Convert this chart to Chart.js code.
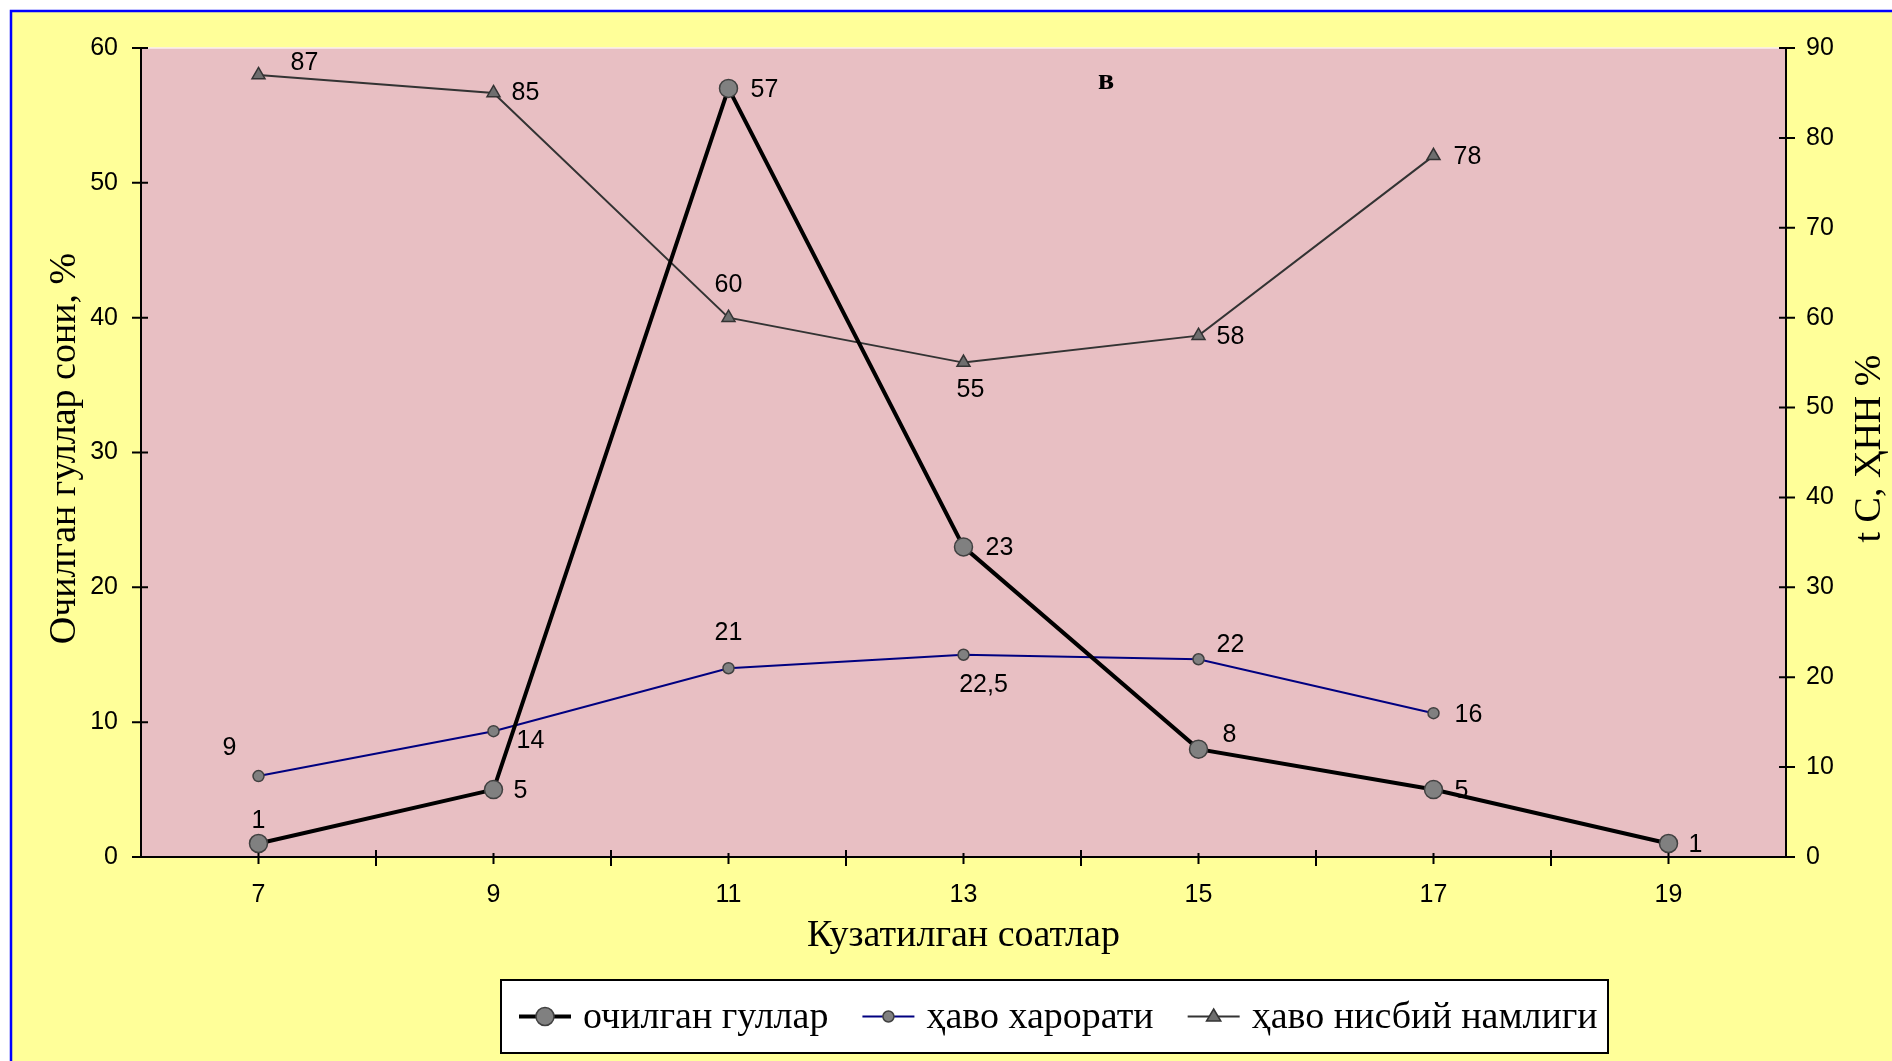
<!DOCTYPE html>
<html lang="uz">
<head>
<meta charset="UTF-8">
<title>Очилган гуллар</title>
<script src="https://cdn.jsdelivr.net/npm/chart.js@4.4.1/dist/chart.umd.min.js"></script>
<style>
  html, body { margin: 0; padding: 0; background: #fff; }
  #wrap { width: 1892px; height: 1061px; }
</style>
</head>
<body>
<div id="wrap"><canvas id="chart" width="1892" height="1061"></canvas></div>
<script>
// observed hours and series
const hours = [7, 9, 11, 13, 15, 17, 19];
const openedFlowers = [1, 5, 57, 23, 8, 5, 1];       // %, left axis
const airTemp = [9, 14, 21, 22.5, 22, 16];           // t C, right axis
const airHumidity = [87, 85, 60, 55, 58, 78];        // %, right axis
const xTickLabels = [7, 9, 11, 13, 15, 17, 19];
const leftTicks = [0, 10, 20, 30, 40, 50, 60];
const rightTicks = [0, 10, 20, 30, 40, 50, 60, 70, 80, 90];

const serif = '"Liberation Serif", "Times New Roman", "DejaVu Serif", serif';
const sans = '"Liberation Sans", Arial, sans-serif';

function pts(values) {
  return values.map((v, i) => ({ x: hours[i], y: v }));
}

function fmt(v) {
  return String(v).replace('.', ',');
}

// label placement next to each point (px), like the hand-moved excel labels
const flowerShift = [[0, -22], [27, 2], [36, 2], [36, 1], [31, -14], [28, 2], [27, 2]];
const tempShift = [[-29, -28], [37, 10], [0, -35], [20, 30], [32, -14], [35, 2]];
const humidShift = [[46, -12], [32, 0], [0, -33], [7, 27], [32, 1], [34, 1]];

const framePlugin = {
  id: 'frame',
  beforeDraw(chart) {
    const { ctx, chartArea: a } = chart;
    ctx.save();
    ctx.fillStyle = '#ffffff';
    ctx.fillRect(0, 0, chart.width, chart.height);
    ctx.fillStyle = '#ffff99';
    ctx.fillRect(11, 11, chart.width - 11, chart.height - 11);
    ctx.strokeStyle = '#0000ff';
    ctx.lineWidth = 2.5;
    ctx.beginPath();
    ctx.moveTo(11, chart.height);
    ctx.lineTo(11, 11);
    ctx.lineTo(chart.width, 11);
    ctx.stroke();
    ctx.fillStyle = '#e8bfc3';
    ctx.fillRect(a.left, a.top, a.right - a.left, a.bottom - a.top);
    ctx.strokeStyle = '#fbeef0';
    ctx.lineWidth = 1.5;
    ctx.beginPath();
    ctx.moveTo(a.left, a.top);
    ctx.lineTo(a.right, a.top);
    ctx.stroke();
    ctx.restore();
  }
};

// tick marks crossing the axis lines
const tickPlugin = {
  id: 'crossTicks',
  afterDatasetsDraw(chart) {
    const { ctx, chartArea: a, scales } = chart;
    ctx.save();
    ctx.strokeStyle = '#000';
    ctx.lineWidth = 2;
    ctx.beginPath();
    leftTicks.forEach(v => {
      const y = scales.y.getPixelForValue(v);
      ctx.moveTo(a.left - 9, y);
      ctx.lineTo(a.left + 7, y);
    });
    rightTicks.forEach(v => {
      const y = scales.y1.getPixelForValue(v);
      ctx.moveTo(a.right - 7, y);
      ctx.lineTo(a.right + 9, y);
    });
    for (let h = 7; h <= 19; h++) {
      const x = scales.x.getPixelForValue(h);
      const big = h % 2 === 0;
      ctx.moveTo(x, a.bottom - (big ? 7 : 4));
      ctx.lineTo(x, a.bottom + (big ? 9 : 7));
    }
    ctx.stroke();
    ctx.restore();
  }
};

const labelPlugin = {
  id: 'pointLabels',
  afterDatasetsDraw(chart) {
    const { ctx } = chart;
    ctx.save();
    ctx.font = '25px ' + sans;
    ctx.fillStyle = '#000';
    ctx.textAlign = 'center';
    ctx.textBaseline = 'middle';
    chart.data.datasets.forEach((ds, i) => {
      const meta = chart.getDatasetMeta(i);
      meta.data.forEach((el, j) => {
        const [dx, dy] = ds.labelShift[j];
        ctx.fillText(fmt(ds.data[j].y), el.x + dx, el.y + dy);
      });
    });
    ctx.restore();
  }
};

function marker(ctx, style, r, x, y, fill, stroke) {
  ctx.beginPath();
  if (style === 'triangle') {
    ctx.moveTo(x, y - r);
    ctx.lineTo(x + r * 0.95, y + r * 0.6);
    ctx.lineTo(x - r * 0.95, y + r * 0.6);
    ctx.closePath();
  } else {
    ctx.arc(x, y, r, 0, Math.PI * 2);
  }
  ctx.fillStyle = fill;
  ctx.fill();
  ctx.lineWidth = 1.5;
  ctx.strokeStyle = stroke;
  ctx.stroke();
}

const textPlugin = {
  id: 'texts',
  afterDraw(chart) {
    const { ctx, chartArea: a } = chart;
    const midY = (a.top + a.bottom) / 2 - 4;
    ctx.save();
    ctx.fillStyle = '#000';
    ctx.font = '38px ' + serif;
    ctx.textAlign = 'center';
    ctx.textBaseline = 'alphabetic';

    ctx.save();
    ctx.translate(75, midY);
    ctx.rotate(-Math.PI / 2);
    ctx.fillText('Очилган гуллар сони, %', 0, 0);
    ctx.restore();

    ctx.save();
    ctx.translate(1880, midY);
    ctx.rotate(-Math.PI / 2);
    ctx.fillText('t C, ҲНН %', 0, 0);
    ctx.restore();

    ctx.fillText('Кузатилган соатлар', (a.left + a.right) / 2, 946);

    ctx.font = 'bold 30px ' + serif;
    ctx.fillText('в', 1106, 89);

    // legend box
    const bx = 501, by = 980, bw = 1107, bh = 73, cy = by + bh / 2;
    ctx.fillStyle = '#ffffff';
    ctx.fillRect(bx, by, bw, bh);
    ctx.strokeStyle = '#000';
    ctx.lineWidth = 2;
    ctx.strokeRect(bx, by, bw, bh);

    ctx.font = '38px ' + serif;
    ctx.textAlign = 'left';
    ctx.textBaseline = 'middle';
    let x = bx + 18;
    chart.data.datasets.forEach(ds => {
      ctx.strokeStyle = ds.borderColor;
      ctx.lineWidth = ds.borderWidth;
      ctx.beginPath();
      ctx.moveTo(x, cy);
      ctx.lineTo(x + 52, cy);
      ctx.stroke();
      marker(ctx, ds.pointStyle, ds.legendRadius, x + 26, cy, ds.pointBackgroundColor, ds.pointBorderColor);
      ctx.fillStyle = '#000';
      ctx.fillText(ds.label, x + 64, cy + 2);
      x += 64 + ctx.measureText(ds.label).width + 34;
    });
    ctx.restore();
  }
};

const tickFont = { family: sans, size: 25 };

new Chart(document.getElementById('chart'), {
  type: 'line',
  data: {
    datasets: [
      {
        label: 'очилган гуллар',
        data: pts(openedFlowers),
        yAxisID: 'y',
        borderColor: '#000000',
        borderWidth: 4,
        pointStyle: 'circle',
        pointRadius: 9,
        legendRadius: 9,
        pointBackgroundColor: '#808080',
        pointBorderColor: '#404040',
        pointBorderWidth: 1.5,
        labelShift: flowerShift
      },
      {
        label: 'ҳаво харорати',
        data: pts(airTemp),
        yAxisID: 'y1',
        borderColor: '#000080',
        borderWidth: 2,
        pointStyle: 'circle',
        pointRadius: 5.5,
        legendRadius: 5.5,
        pointBackgroundColor: '#808080',
        pointBorderColor: '#404040',
        pointBorderWidth: 1.5,
        labelShift: tempShift
      },
      {
        label: 'ҳаво нисбий намлиги',
        data: pts(airHumidity),
        yAxisID: 'y1',
        borderColor: '#333333',
        borderWidth: 2,
        pointStyle: 'triangle',
        pointRadius: 7.5,
        legendRadius: 7.5,
        pointBackgroundColor: '#6e6e6e',
        pointBorderColor: '#333333',
        pointBorderWidth: 1.5,
        labelShift: humidShift
      }
    ]
  },
  options: {
    responsive: false,
    devicePixelRatio: 1,
    animation: false,
    layout: { padding: { top: 48, left: 0, right: 0, bottom: 0 } },
    plugins: {
      legend: { display: false },
      tooltip: { enabled: false }
    },
    scales: {
      x: {
        type: 'linear',
        min: 6,
        max: 20,
        grid: { display: false, drawTicks: false },
        border: { display: true, color: '#000', width: 2 },
        ticks: {
          stepSize: 1,
          autoSkip: false,
          maxRotation: 0,
          padding: 23,
          color: '#000',
          font: tickFont,
          callback: v => xTickLabels.includes(v) ? String(v) : ''
        },
        afterFit: s => { s.height = 204; }
      },
      y: {
        position: 'left',
        min: 0,
        max: 60,
        grid: { display: false, drawTicks: false },
        border: { display: true, color: '#000', width: 2 },
        ticks: { stepSize: 10, padding: 23, color: '#000', font: tickFont },
        afterFit: s => { s.width = 141; }
      },
      y1: {
        position: 'right',
        min: 0,
        max: 90,
        grid: { display: false, drawTicks: false },
        border: { display: true, color: '#000', width: 2 },
        ticks: { stepSize: 10, padding: 20, color: '#000', font: tickFont },
        afterFit: s => { s.width = 106; }
      }
    }
  },
  plugins: [framePlugin, tickPlugin, labelPlugin, textPlugin]
});
</script>
</body>
</html>
